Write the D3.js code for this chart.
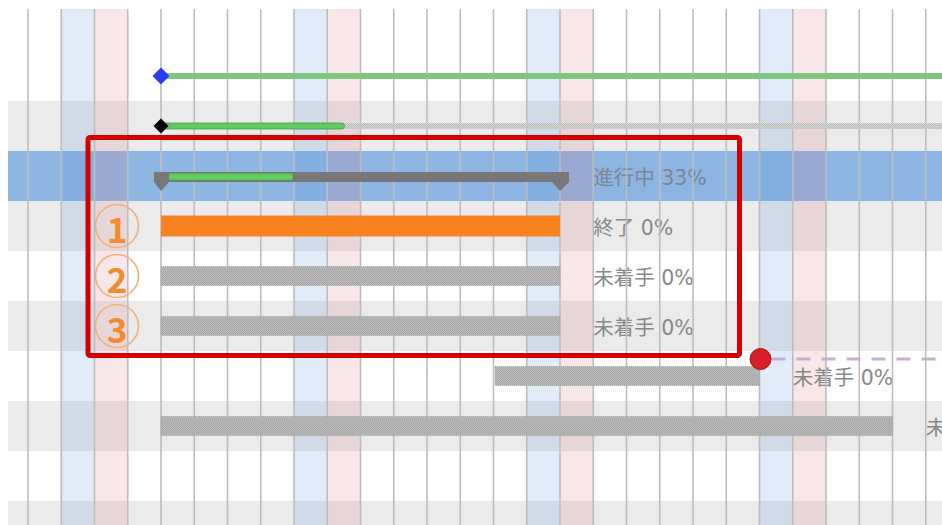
<!DOCTYPE html>
<html><head><meta charset="utf-8">
<script src="https://cdn.jsdelivr.net/npm/d3@7"></script>
<style>
html,body{margin:0;padding:0;background:#fff;overflow:hidden}
svg{display:block}
</style></head>
<body>
<svg id="chart" width="942" height="525"></svg>
<script>
// ---- data ----
const dayStart = "2019-10-31";
const dayEnd = "2019-11-29";
const rowIds = [0,1,2,3,4,5,6,7,8,9,10];
const selectedRow = 3;

const milestoneRows = [1, 2];
const milestoneDates = ["2019-11-05", "2019-11-05"];

const phaseRow = 1;
const phaseStart = "2019-11-05";
const phaseEnd = "2019-12-05";

const thinRow = 2;
const thinStart = "2019-11-05";
const thinEnd = "2019-12-05";
const thinProgress = 18.4;

const taskRows = [3, 4, 5, 6, 7, 8];
const taskStarts = ["2019-11-05","2019-11-05","2019-11-05","2019-11-05","2019-11-15","2019-11-05"];
const taskEnds   = ["2019-11-17","2019-11-17","2019-11-17","2019-11-17","2019-11-23","2019-11-27"];
const taskProgress = [33, 0, 0, 0, 0, 0];
const taskStatus = ["進行中","終了","未着手","未着手","未着手","未着手"];
const taskKinds = ["summary","done","todo","todo","todo","todo"];

const depRow = 7;
const depDate = "2019-11-23";

const noteRows = [4, 5, 6];
const noteLabels = ["1", "2", "3"];

// ---- setup ----
const W = 942, H = 525;
const svg = d3.select("#chart");
const parse = d3.utcParse("%Y-%m-%d");
const dayW = 33.25;
const x = d3.scaleUtc()
  .domain([parse(dayStart), parse(dayEnd)])
  .range([28 - dayW, 28 - dayW + 29 * dayW]);
const y = d3.scaleBand().domain(rowIds).range([1, 1 + rowIds.length * 50]);
const cy = r => y(r) + y.bandwidth() / 2;

const defs = svg.append("defs");
const pat = defs.append("pattern").attr("id","dots").attr("width",2).attr("height",2).attr("patternUnits","userSpaceOnUse");
pat.append("rect").attr("width",2).attr("height",2).attr("fill","#b9b9b9");
pat.append("rect").attr("width",1).attr("height",1).attr("fill","#a9a9a9");
pat.append("rect").attr("x",1).attr("y",1).attr("width",1).attr("height",1).attr("fill","#a9a9a9");
const pat2 = defs.append("pattern").attr("id","dotsLight").attr("width",2).attr("height",2).attr("patternUnits","userSpaceOnUse");
pat2.append("rect").attr("width",2).attr("height",2).attr("fill","#d4d4d4");
pat2.append("rect").attr("width",1).attr("height",1).attr("fill","#bdbdbd");
pat2.append("rect").attr("x",1).attr("y",1).attr("width",1).attr("height",1).attr("fill","#bdbdbd");
defs.append("clipPath").attr("id","clip").append("rect").attr("x",8).attr("y",9).attr("width",W-8).attr("height",H-9);

const g = svg.append("g").attr("clip-path","url(#clip)");

// rows
g.selectAll("rect.row").data(rowIds).join("rect")
  .attr("x", 0).attr("width", W)
  .attr("y", d => y(d)).attr("height", y.bandwidth())
  .attr("fill", d => d === selectedRow ? "#8db5e2" : (d > 0 && d % 2 === 0 ? "#ebebeb" : "#ffffff"));

// weekend columns
const days = d3.utcDay.range(d3.utcDay.offset(parse(dayStart), -1), d3.utcDay.offset(parse(dayEnd), 1));
g.selectAll("rect.wk").data(days.filter(d => d.getUTCDay() === 6 || d.getUTCDay() === 0)).join("rect")
  .attr("x", d => x(d)).attr("width", dayW)
  .attr("y", 0).attr("height", H)
  .attr("fill", d => d.getUTCDay() === 6 ? "rgba(90,150,215,0.18)" : "rgba(215,110,125,0.17)");

const tasks = taskRows.map((r, i) => ({
  row: r, start: parse(taskStarts[i]), end: parse(taskEnds[i]),
  progress: taskProgress[i], status: taskStatus[i], kind: taskKinds[i]
}));

// status labels (under grid lines, as in the reference)
g.selectAll("text.lbl").data(tasks).join("text")
  .attr("x", t => x(d3.utcDay.offset(t.end, 1)))
  .attr("y", t => cy(t.row) + 2)
  .attr("dominant-baseline", "central")
  .attr("font-family", "'DejaVu Sans', 'Noto Sans CJK JP', sans-serif")
  .attr("font-size", 20.5)
  .attr("fill", t => t.row === selectedRow ? "#7c8696" : "#888888")
  .text(t => `${t.status} ${t.progress}%`);

// annotations: circled numbers
const notes = g.selectAll("g.note").data(noteRows).join("g")
  .attr("transform", r => `translate(117,${cy(r)})`);
notes.append("circle").attr("r", 21.5).attr("fill", "none")
  .attr("stroke", "#f2b07a").attr("stroke-width", 1.6);
notes.append("text").attr("text-anchor", "middle").attr("dominant-baseline", "central")
  .attr("y", 1)
  .attr("font-family", "'Noto Sans CJK JP', 'Noto Sans', sans-serif")
  .attr("font-size", 35).attr("font-weight", 600).attr("fill", "#f28b2c")
  .text((r, i) => noteLabels[i]);

// grid lines
g.selectAll("line.grid").data(days).join("line")
  .attr("x1", d => x(d)).attr("x2", d => x(d))
  .attr("y1", 9).attr("y2", H)
  .attr("stroke", "#bdbdbd").attr("stroke-width", 1.6);

// phase line (row 1)
g.append("rect")
  .attr("x", x(parse(phaseStart))).attr("width", x(parse(phaseEnd)) - x(parse(phaseStart)))
  .attr("y", cy(phaseRow) - 3).attr("height", 6)
  .attr("fill", "#7fc77f");

// thin task (row 2)
const tx0 = x(parse(thinStart)), tx1 = x(parse(thinEnd));
g.append("rect").attr("x", tx0).attr("width", tx1 - tx0)
  .attr("y", cy(thinRow) - 3).attr("height", 6).attr("fill", "url(#dotsLight)");
g.append("rect").attr("x", tx0).attr("width", (tx1 - tx0) * thinProgress / 100)
  .attr("y", cy(thinRow) - 3).attr("height", 6).attr("rx", 3)
  .attr("fill", "#62c862").attr("stroke", "#3f9e3f").attr("stroke-width", 0.8);

// milestones
const mColors = ["#2b3cf0", "#000000"];
const mSize = [8.5, 7.5];
g.selectAll("path.ms").data(milestoneRows).join("path")
  .attr("d", (r, i) => {
    const cx = x(parse(milestoneDates[i])), c = cy(r), s = mSize[i];
    return `M${cx},${c - s}L${cx + s},${c}L${cx},${c + s}L${cx - s},${c}Z`;
  })
  .attr("fill", (r, i) => mColors[i]);

// task bars
tasks.forEach(t => {
  const x0 = x(t.start), x1 = x(t.end), c = cy(t.row);
  if (t.kind === "summary") {
    const top = c - 4, h = 9;
    g.append("path")
      .attr("d", `M${x0 - 7},${top}H${x1 + 9}V${top + h + 1}L${x1},${top + h + 10}L${x1 - 8},${top + h + 1}H${x0 + 8}L${x0},${top + h + 10}L${x0 - 7},${top + h + 1}Z`)
      .attr("fill", "#777777");
    const pStart = x0 + 8;
    const pEnd = x0 + (x1 - x0) * t.progress / 100;
    g.append("rect").attr("x", pStart).attr("width", pEnd - pStart)
      .attr("y", top + 1.5).attr("height", 6.5)
      .attr("fill", "#5fd05f").attr("stroke", "#48b048").attr("stroke-width", 0.6);
  } else if (t.kind === "done") {
    g.append("rect").attr("x", x0).attr("width", x1 - x0)
      .attr("y", c - 10.5).attr("height", 21)
      .attr("fill", "#f7821f");
  } else {
    const inset = t.row === 7 ? 1.5 : 0;
    g.append("rect").attr("x", x0 + inset).attr("width", x1 - x0 - inset)
      .attr("y", c - 9.5).attr("height", 19)
      .attr("fill", "url(#dots)").attr("stroke", "#9e9e9e").attr("stroke-width", 0.8).attr("stroke-dasharray", "1,1");
  }
});

// dependency marker
const dx = x(parse(depDate)), dy = y(depRow) + 8;
g.append("line").attr("x1", dx + 12).attr("x2", W).attr("y1", dy).attr("y2", dy)
  .attr("stroke", "#c6aed0").attr("stroke-width", 3).attr("stroke-dasharray", "14,11");
g.append("circle").attr("cx", dx + 1).attr("cy", dy).attr("r", 10.5)
  .attr("fill", "#d61f26").attr("stroke", "#a8141a").attr("stroke-width", 1);

// annotation: red frame
svg.append("rect").attr("x", 88).attr("y", 137.5).attr("width", 651.5).attr("height", 218)
  .attr("rx", 2).attr("fill", "none").attr("stroke", "#d40000").attr("stroke-width", 5);
</script>
</body></html>
